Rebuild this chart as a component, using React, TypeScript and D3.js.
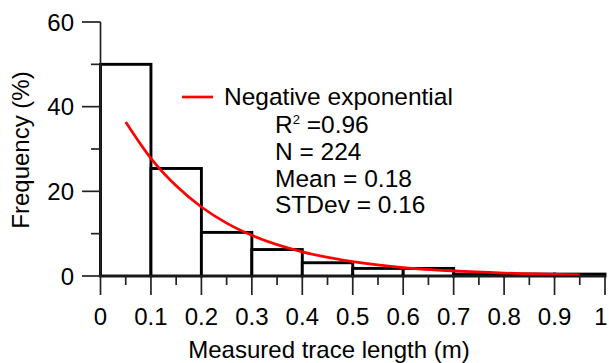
import React from "react";
import * as d3 from "d3";

const binStarts = [0, 0.1, 0.2, 0.3, 0.4, 0.5, 0.6, 0.7, 0.8, 0.9];
const binWidth = 0.1;
const frequencies = [50, 25.4, 10.3, 6.25, 3.13, 1.79, 1.79, 0.45, 0.45, 0.45];
const fitX = [0.05, 0.1, 0.15, 0.2, 0.25, 0.3, 0.4, 0.5, 0.6, 0.7, 0.8, 0.95];
const fitY = [36.4, 27.8, 21.3, 16.3, 12.5, 9.6, 5.7, 3.4, 2.0, 1.2, 0.7, 0.3];
const xTicks = [0, 0.1, 0.2, 0.3, 0.4, 0.5, 0.6, 0.7, 0.8, 0.9, 1];
const xTickLabels = ["0", "0.1", "0.2", "0.3", "0.4", "0.5", "0.6", "0.7", "0.8", "0.9", "1"];
const xMinorTicks = [0.05, 0.15, 0.25, 0.35, 0.45, 0.55, 0.65, 0.75, 0.85, 0.95];
const yTicks = [0, 20, 40, 60];
const yMinorTicks = [10, 30, 50];
const legendLabel = "Negative exponential";
const statsLines = ["N = 224", "Mean = 0.18", "STDev = 0.16"];

export default function App() {
  const W = 609, H = 363;
  const x = d3.scaleLinear().domain([0, 1]).range([100.5, 605]);
  const y = d3.scaleLinear().domain([0, 60]).range([276, 22]);
  const font = "'Liberation Sans', Arial, Helvetica, sans-serif";
  const fs = 24;
  const lfs = 24.5;
  const line = d3
    .line<number>()
    .x((_, i) => x(fitX[i]))
    .y((d) => y(d))
    .curve(d3.curveMonotoneX);

  return (
    <svg width={W} height={H} style={{ position: "absolute", left: 0, top: 0 }} fontFamily={font}>
      <rect width={W} height={H} fill="#fff" />
      {/* bars */}
      {binStarts.map((b, i) => (
        <rect
          key={i}
          x={x(b)}
          y={y(frequencies[i])}
          width={x(b + binWidth) - x(b)}
          height={y(0) - y(frequencies[i])}
          fill="#fff"
          stroke="#000"
          strokeWidth={2.9}
        />
      ))}
      {/* fitted curve */}
      <path d={line(fitY) || ""} fill="none" stroke="#ff0000" strokeWidth={2.7} />
      {/* y axis */}
      <line x1={x(0)} x2={x(0)} y1={y(60)} y2={y(0)} stroke="#222" strokeWidth={1.7} />
      {yTicks.map((t) => (
        <g key={t}>
          <line x1={82} x2={x(0)} y1={y(t)} y2={y(t)} stroke="#222" strokeWidth={1.7} />
          <text x={74} y={y(t)} dy="0.36em" textAnchor="end" fontSize={fs} fill="#000">
            {t}
          </text>
        </g>
      ))}
      {yMinorTicks.map((t) => (
        <line key={t} x1={91} x2={x(0)} y1={y(t)} y2={y(t)} stroke="#222" strokeWidth={1.7} />
      ))}
      {/* x axis */}
      <line x1={x(0)} x2={x(1)} y1={y(0)} y2={y(0)} stroke="#222" strokeWidth={1.7} />
      {xTicks.map((t, i) => (
        <g key={t}>
          <line x1={x(t)} x2={x(t)} y1={y(0)} y2={295} stroke="#222" strokeWidth={1.7} />
          <text x={Math.min(x(t), 601)} y={325} textAnchor="middle" fontSize={fs} fill="#000">
            {xTickLabels[i]}
          </text>
        </g>
      ))}
      {xMinorTicks.map((t) => (
        <line key={t} x1={x(t)} x2={x(t)} y1={y(0)} y2={285} stroke="#222" strokeWidth={1.7} />
      ))}
      {/* axis titles */}
      <text x={329} y={358} textAnchor="middle" fontSize={fs} fill="#000">
        Measured trace length (m)
      </text>
      <text
        transform={`translate(29,150) rotate(-90)`}
        textAnchor="middle"
        fontSize={fs}
        fill="#000"
      >
        Frequency (%)
      </text>
      {/* legend */}
      <line x1={182} x2={213} y1={97} y2={97} stroke="#ff0000" strokeWidth={2.7} />
      <text x={224} y={105} fontSize={lfs} fill="#000">
        {legendLabel}
      </text>
      <text x={275} y={133} fontSize={lfs} fill="#000">
        R<tspan fontSize={13} dy={-9}>2</tspan>
        <tspan dy={9}> =0.96</tspan>
      </text>
      {statsLines.map((s, i) => (
        <text key={s} x={275} y={160 + i * 26.7} fontSize={lfs} fill="#000">
          {s}
        </text>
      ))}
    </svg>
  );
}
